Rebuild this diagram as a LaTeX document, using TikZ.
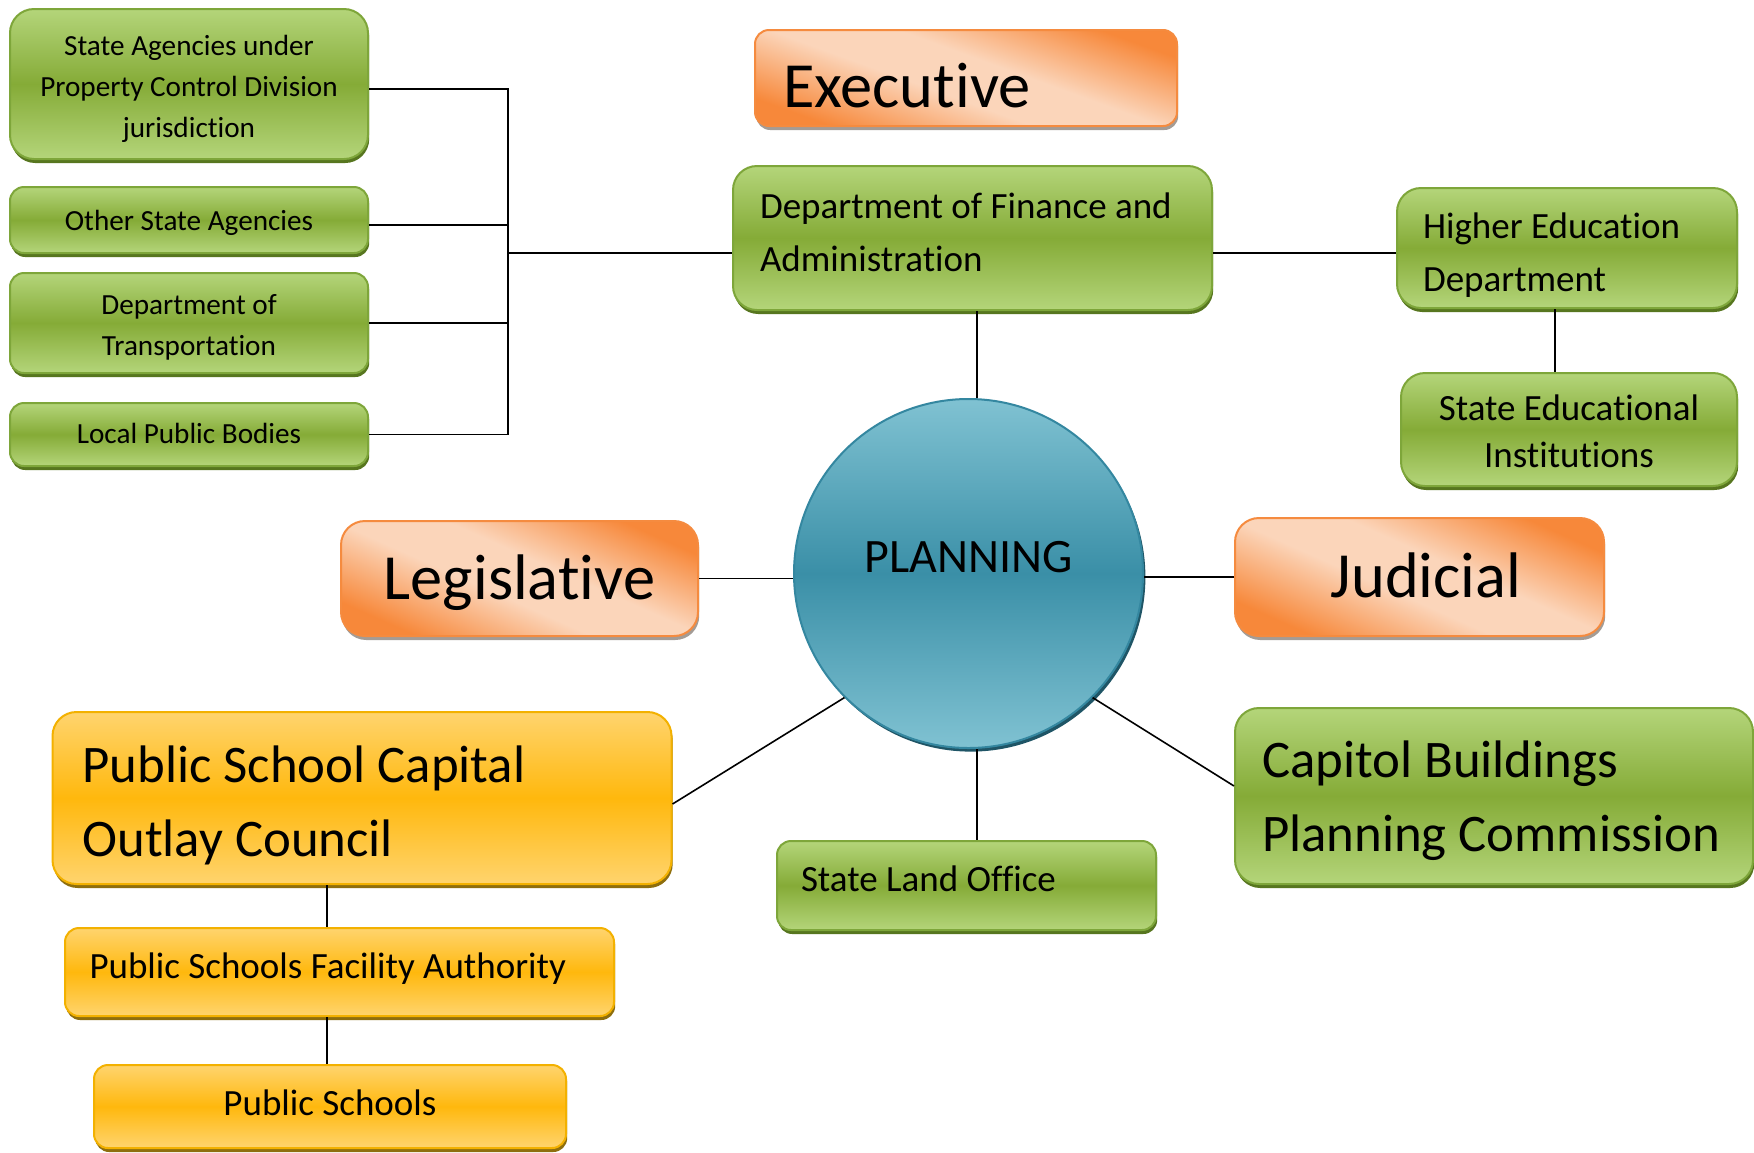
\documentclass[tikz,border=0pt]{standalone}
\usepackage{fontspec}
\setmainfont{Carlito}[Ligatures=NoCommon]
\usetikzlibrary{shadows}
\definecolor{glight}{HTML}{B4D57A}
\definecolor{gdark}{HTML}{85AB37}
\definecolor{gborder}{HTML}{7EA63A}
\definecolor{gshadow}{HTML}{57761F}
\definecolor{ocorner}{HTML}{F7883A}
\definecolor{olight}{HTML}{FBD5BA}
\definecolor{oborder}{HTML}{F58B3F}
\definecolor{oshadow}{HTML}{A39C96}
\definecolor{ylight}{HTML}{FFD46E}
\definecolor{ydark}{HTML}{FFB80D}
\definecolor{yborder}{HTML}{F3B100}
\definecolor{yshadow}{HTML}{8E6E0E}
\definecolor{clight}{HTML}{80C2D2}
\definecolor{cdark}{HTML}{3A8FA7}
\definecolor{cborder}{HTML}{3487A0}
\definecolor{cshadow}{HTML}{1F5566}
\pgfdeclareverticalshading{orsh}{100bp}{color(0bp)=(ocorner); color(25bp)=(ocorner); color(44bp)=(olight); color(56bp)=(olight); color(75bp)=(ocorner); color(100bp)=(ocorner)}
\newcommand\fsBig{\fontsize{32.2}{38}\selectfont}
\newcommand\fsLarge{\fontsize{26.4}{37.3}\selectfont}
\newcommand\fsMed{\fontsize{18.5}{26.5}\selectfont}
\newcommand\fsMedT{\fontsize{18.5}{23.5}\selectfont}
\newcommand\fsSmall{\fontsize{14.6}{20.5}\selectfont}
\newcommand\fsPlan{\fontsize{24}{28}\selectfont}
\begin{document}
\begin{tikzpicture}[x=0.5pt,y=-0.5pt,
  conn/.style={draw=black, line width=0.8pt},
  big/.style={rounded corners=12pt},
  small/.style={rounded corners=7pt},
  boxbase/.style={line width=1pt, inner ysep=0pt, text=black, execute at begin node={\spaceskip=0pt\xspaceskip=0pt\relax}},
  gbox/.style={boxbase, draw=gborder, top color=glight, bottom color=glight, middle color=gdark,
    drop shadow={shadow xshift=0.6pt, shadow yshift=-2pt, fill=gshadow, opacity=1}},
  obox/.style={boxbase, draw=oborder, shading=orsh, shading angle=#1,
    drop shadow={shadow xshift=0.6pt, shadow yshift=-2pt, fill=oshadow, opacity=1}},
  ybox/.style={boxbase, draw=yborder, top color=ylight, bottom color=ylight, middle color=ydark,
    drop shadow={shadow xshift=0.6pt, shadow yshift=-2pt, fill=yshadow, opacity=1}},
]
\useasboundingbox (0,0) rectangle (1754,1152);
\fill[white] (0,0) rectangle (1754,1152);

% left group
\node[gbox, big, minimum width=179pt, minimum height=75pt, font=\fsSmall, align=center, text height=53pt, text depth=0pt] (sa) at (189,84)
  {State Agencies under\\Property Control Division\\jurisdiction};
\node[gbox, small, minimum width=179pt, minimum height=33pt, font=\fsSmall, align=center, text height=10pt, text depth=0pt] (os) at (189,220)
  {Other State Agencies};
\node[gbox, small, minimum width=179pt, minimum height=50pt, font=\fsSmall, align=center, text height=32pt, text depth=0pt] (dot) at (189,323)
  {Department of\\Transportation};
\node[gbox, small, minimum width=179pt, minimum height=31.5pt, font=\fsSmall, align=center, text height=8.5pt, text depth=0pt] (lp) at (189,434.5)
  {Local Public Bodies};

% top
\node[obox=-20, small, minimum width=211pt, minimum height=48pt, font=\fsBig, align=left, text width=183pt, inner xsep=14pt, text height=29pt, text depth=0pt] (ex) at (966,78)
  {Executive};
\node[gbox, big, minimum width=239.5pt, minimum height=72pt, font=\fsMed, align=left, text width=212.5pt, inner xsep=13.5pt, text height=0pt, text depth=20pt] (df) at (972.5,238)
  {\mbox{Department of Finance and}\\Administration};
\node[gbox, big, minimum width=170pt, minimum height=60pt, font=\fsMed, align=left, text width=144pt, inner xsep=13pt, text height=0pt, text depth=10pt] (he) at (1567,248)
  {Higher Education\\Department};
\node[gbox, big, minimum width=168pt, minimum height=56.5pt, font=\fsMedT, align=center, text height=37.5pt, text depth=0pt] (se) at (1569,429.5)
  {State Educational\\Institutions};

% centre
\node[circle, draw=cborder, line width=1pt, minimum size=174.5pt, inner sep=0pt,
  top color=clight, bottom color=clight, middle color=cdark,
  drop shadow={shadow xshift=1.2pt, shadow yshift=-1.8pt, fill=cshadow, opacity=1},
  font=\fsPlan, text height=15pt, text depth=16.5pt] (pl) at (968.5,573.5) {PLANNING};

\node[obox=-24, big, minimum width=178.5pt, minimum height=57.5pt, font=\fsBig, text height=20.5pt, text depth=0pt] (leg) at (519.5,578.5)
  {Legislative};
\node[obox=-24, big, minimum width=184.5pt, minimum height=59pt, font=\fsBig, text height=20pt, text depth=0pt] (jud) at (1419.5,577)
  {\hspace*{6.5pt}Judicial};

% bottom
\node[ybox, big, minimum width=309.5pt, minimum height=86pt, font=\fsLarge, align=left, text width=279.5pt, inner xsep=15pt, text height=0pt, text depth=16pt] (pscoc) at (362,798)
  {Public School Capital\\Outlay Council};
\node[ybox, small, minimum width=274.5pt, minimum height=44pt, font=\fsMed, align=left, text width=250pt, inner xsep=12.25pt, text height=6pt, text depth=0pt] (psfa) at (339.5,972)
  {\mbox{Public Schools Facility Authority}};
\node[ybox, small, minimum width=236pt, minimum height=41.5pt, font=\fsMed, align=center, text height=8.5pt, text depth=0pt] (ps) at (330,1106.5)
  {Public Schools};
\node[gbox, small, minimum width=189.5pt, minimum height=44.5pt, font=\fsMed, align=left, text width=165.5pt, inner xsep=12pt, text height=6pt, text depth=0pt] (slo) at (966.5,885.5)
  {State Land Office};
\node[gbox, big, minimum width=259pt, minimum height=88pt, font=\fsLarge, align=left, text width=232pt, inner xsep=13.5pt, text height=0pt, text depth=19pt] (cap) at (1494,796)
  {Capitol Buildings\\\mbox{Planning Commission}};

% connectors
\coordinate (bx) at (508,0);
\coordinate (jn) at (508,253);
\coordinate (hx) at (1555,0);
\coordinate (vx) at (977,0);
\coordinate (px) at (327,0);
\draw[conn] ([yshift=-2.5pt]sa.east) coordinate (s1) -- (s1 -| bx) -- (lp.east -| bx) -- (lp.east);
\draw[conn] ([yshift=-2.5pt]os.east) coordinate (s2) -- (s2 -| bx);
\draw[conn] (dot.east) -- (dot.east -| bx);
\draw[conn] (jn) -- (jn -| df.west);
\draw[conn] (df.east |- jn) -- (jn -| he.west);
\draw[conn] (he.south -| hx) -- (se.north -| hx);
\draw[conn] (df.south -| vx) -- (pl.north -| vx);
\draw[conn] (pl.south -| vx) -- (slo.north -| vx);
\draw[conn] (leg.east) -- (leg.east -| pl.west);
\draw[conn] (jud.west) -- (jud.west -| pl.east);
\draw[conn] (pl.south west) -- ([yshift=-3pt]pscoc.east);
\draw[conn] (pl.south east) -- ([yshift=5pt]cap.west);
\draw[conn] (pscoc.south -| px) -- (psfa.north -| px);
\draw[conn] (psfa.south -| px) -- (ps.north -| px);
\end{tikzpicture}
\end{document}
